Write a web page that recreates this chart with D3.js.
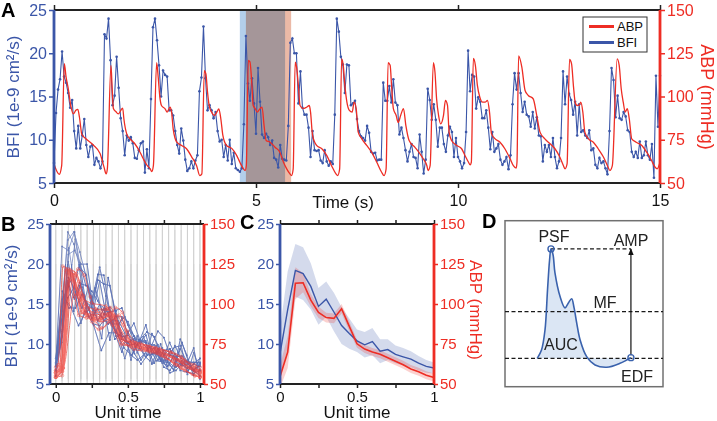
<!DOCTYPE html>
<html><head><meta charset="utf-8">
<script src="https://cdn.jsdelivr.net/npm/d3@7"></script>
<style>
body{margin:0;background:#fff}
svg{display:block}
text{font-family:"Liberation Sans",Arial,Helvetica,sans-serif}
</style>
</head><body>
<svg id="c" width="717" height="421"></svg>
<script>
// ---------------- DATA ----------------
const timeTicks = [0, 5, 10, 15];
const bfiTicks = [5, 10, 15, 20, 25];
const abpTicks = [50, 75, 100, 125, 150];
const unitTicks = [0, 0.25, 0.5, 0.75, 1];
const unitLabels = [0, 0.5, 1];

// BFI sampled at 20 Hz (1e-9 cm^2/s)
const bfiDt = 0.05;
const bfi = [
7.3,13.1,15.8,17.0,20.2,17.3,16.6,15.4,13.7,14.6,
11.0,9.0,11.6,9.0,10.5,12.4,9.4,8.0,9.2,9.4,
7.1,7.9,7.5,6.7,7.5,22.2,21.7,24.0,19.2,14.0,
15.1,19.6,16.0,12.5,11.0,8.2,10.5,9.9,10.3,9.6,
7.9,7.8,8.8,9.6,9.8,6.2,8.9,6.7,14.7,23.0,
24.0,21.5,18.6,15.0,18.0,17.5,17.3,13.4,13.4,12.8,
11.0,9.4,8.4,11.3,9.9,7.7,6.4,6.7,7.5,6.7,
7.6,8.2,15.6,17.2,23.1,17.1,13.4,14.0,13.4,12.5,
13.2,11.0,9.8,10.0,8.0,9.4,7.6,10.0,7.2,8.5,
6.7,6.5,6.3,6.7,11.8,22.0,16.5,14.5,17.1,14.2,
10.7,18.3,14.4,10.6,10.2,10.7,10.3,9.4,9.9,7.9,
7.7,6.8,9.4,7.8,7.7,7.6,11.6,21.2,21.7,20.0,
20.0,14.2,17.9,13.7,12.9,12.9,11.4,8.0,11.0,8.8,
8.7,8.8,7.6,7.3,8.8,7.5,7.0,7.5,7.2,12.9,
24.0,22.5,19.6,18.7,15.4,18.7,18.6,14.0,14.2,14.5,
12.4,11.0,10.4,10.2,9.9,11.6,10.8,8.6,8.4,8.5,
7.6,7.7,7.7,16.6,14.5,14.5,16.2,14.3,17.0,14.3,
14.0,10.6,11.4,10.2,8.8,7.5,8.6,9.5,8.0,7.9,
6.7,10.6,8.6,6.1,7.7,15.9,14.6,12.3,14.1,12.3,
9.2,11.4,11.4,9.5,8.6,10.5,11.5,10.9,8.0,10.2,
8.0,7.5,6.7,7.3,10.9,20.3,15.6,17.5,17.3,13.6,
14.9,14.4,12.5,12.5,13.4,11.4,8.9,10.9,8.6,9.0,
9.5,7.7,7.1,7.5,8.0,6.6,8.2,14.1,17.7,15.8,
17.7,15.4,13.2,14.4,12.9,12.7,11.5,13.2,11.3,12.6,
10.5,10.4,7.5,9.4,8.6,9.4,8.0,10.2,8.0,6.7,
7.5,10.2,17.9,14.1,17.3,15.3,14.6,12.9,14.4,10.5,
14.1,10.9,11.1,10.5,10.2,11.1,8.8,9.0,7.1,6.7,
7.9,7.3,7.5,6.7,6.0,11.0,18.3,16.9,12.6,15.1,
12.5,12.3,13.2,12.7,11.1,10.9,8.6,8.0,8.6,7.9,
9.8,7.9,8.2,9.8,8.2,7.7,9.5,5.6,17.4,11.5,
17.4];

// ABP (mmHg) key points: time (s) and value
const abpT = [
0,0.13,0.19,0.255,0.30,0.35,0.42,0.48,0.54,0.59,0.63,0.69,0.77,0.97,1.14,1.24,1.29,
1.32,1.41,1.44,1.47,1.53,1.59,1.70,1.73,1.80,1.88,2.00,2.13,2.21,2.31,2.38,2.42,
2.46,2.54,2.58,2.62,2.66,2.75,2.80,2.87,2.91,2.95,3.04,3.16,3.28,3.41,3.53,3.61,
3.66,3.72,3.76,3.80,3.84,3.90,3.97,4.03,4.08,4.13,4.18,4.27,4.40,4.52,4.60,4.69,4.73,
4.76,4.81,4.85,4.90,4.93,4.98,5.03,5.10,5.15,5.20,5.25,5.35,5.47,5.59,5.68,5.76,5.84,5.88,
5.92,5.97,6.01,6.05,6.09,6.17,6.25,6.32,6.35,6.40,6.50,6.63,6.75,6.87,6.98,7.02,
7.07,7.12,7.16,7.20,7.25,7.31,7.38,7.43,7.48,7.53,7.62,7.74,7.86,7.99,8.11,8.17,
8.22,8.27,8.32,8.36,8.40,8.47,8.52,8.58,8.65,8.71,8.79,8.94,9.06,9.14,9.23,9.26,
9.31,9.39,9.43,9.47,9.52,9.57,9.64,9.69,9.74,9.78,9.84,9.97,10.09,10.17,10.26,10.30,
10.33,10.38,10.43,10.48,10.54,10.61,10.67,10.73,10.78,10.83,10.92,11.04,11.16,11.29,11.37,11.44,
11.46,11.50,11.58,11.66,11.74,11.86,11.95,12.03,12.15,12.28,12.40,12.52,12.61,12.65,
12.70,12.76,12.81,12.86,12.90,12.95,13.00,13.04,13.09,13.14,13.23,13.35,13.47,13.60,13.70,13.76,
13.82,13.94,13.99,14.04,14.09,14.14,14.19,14.24,14.30,14.41,14.55,14.67,14.79,14.88,14.93,15.0];
const abpV = [
61,55,60,119,111,105,94,90,92,92.6,88,78,76,72,67,59,55.3,
58,118,104.5,93,91.3,90,93.3,87,78.4,75.5,72.7,67.8,64,60,58.2,56.6,
60,119.5,111,99.6,94.8,92.9,91,93.8,91,81.3,73.6,71.7,69.8,65,60,54.3,
55.3,115,113,102.5,94.8,91,89,91,92.9,87,77.5,71.7,70,66,62,58.2,57.2,
60,120.8,120,106,94.8,93,91,93,93.8,83.2,74.6,73.6,70.7,67.8,62,58.2,55.3,54.3,
58,119.8,116,106,94.8,93,93.8,94.8,91,77.5,71.7,69.8,66,60,55.3,54.3,
58,121.8,118,106.4,96.7,92,91,96.7,93,79.4,75.5,71.7,67.8,62,56.2,54.3,
58,119.5,118,104.5,93,89,85,89,93,83.2,74.6,70.5,66.9,64,60,57.2,
60,119.5,114,98.7,89,84.2,89,97.7,94.8,79.4,74.6,71.7,69.8,66,62,60.5,
62,122,118,106.4,99.6,96.7,96.7,97.7,91,78.4,75.5,73.6,69.8,64,60,58.6,
62,123.5,117,103.5,100.6,98.7,89,79.4,75.5,72.7,69.8,65,60,58.2,
61,121.4,119,105.4,96.7,94.8,95,96.7,91,79.4,75.5,73.6,69.8,65,60,57.2,
60,121.8,118,104.5,96.7,91,93,87,75.5,73.6,71.7,67.8,63,59.1,58.2,62];

// beat boundaries
const bfiOnsets = [0,24,47,71,93,115,138,162,184,203,226,250,274,297];     // sample indices
const abpFeet = [0.13,1.29,2.42,3.61,4.73,5.88,7.02,8.17,9.26,10.30,11.44,12.65,13.76,14.93]; // s

// highlighted windows (s)
const shadeBFI = [4.60, 5.72];
const shadeABP = [4.75, 5.87];

// panel C: mean +/- SD on unit-time grid
const unitGrid = [0,0.05,0.1,0.15,0.2,0.25,0.3,0.35,0.4,0.45,0.5,0.55,0.6,0.65,0.7,0.75,0.8,0.85,0.9,0.95,1];
const bfiMean = [8.8,14.3,19.2,18.8,17.2,14.7,15.6,14.0,12.3,11.3,10.4,9.9,10.3,9.1,9.3,8.7,8.4,8.1,7.6,7.2,7.0];
const bfiSD   = [3.0,4.8,3.3,3.3,2.9,2.3,2.2,2.4,2.3,1.9,1.4,1.6,1.7,1.5,1.3,1.1,1.1,1.0,0.9,0.8,0.7];
const abpMean = [54.5,70,113,113.3,102.4,94.8,91.5,91.0,97.0,86.0,75.1,71.8,70.0,68.6,66.4,64.2,62.0,59.4,57.6,55.5,54.0];
const abpSD   = [7,10,10,6,4,3.5,3,3,3,3,2.5,2.5,2.5,2.5,2.5,2.5,2.5,2.5,2.5,2.5,2.5];

// panel D schematic (normalised box coords)
const schemX = [0.204,0.231,0.253,0.269,0.282,0.291,0.304,0.316,0.348,0.380,0.402,0.422,0.437,0.454,0.475,0.517,0.570,0.644,0.728,0.797];
const schemY = [0.171,0.221,0.340,0.581,0.762,0.830,0.795,0.687,0.545,0.475,0.506,0.530,0.476,0.383,0.283,0.181,0.131,0.117,0.141,0.175];
const levelPSF = 0.83, levelMF = 0.452, levelEDF = 0.171, ampX = 0.797;

// ---------------- DRAW ----------------
const BLUE = '#3b56a8', RED = '#ee2d24', FONT = '"Liberation Sans",Arial,Helvetica,sans-serif';
const svg = d3.select('#c');

function styleAxis(g, color, w, fs){
  g.attr('font-family', FONT).attr('font-size', fs);
  g.select('.domain').attr('stroke', color).attr('stroke-width', w);
  g.selectAll('.tick line').attr('stroke', color).attr('stroke-width', 1.5);
  g.selectAll('.tick text').attr('fill', color);
}
function frame(x, yb, ya, L, R, T, B, fs, tickSz, bottomFmt){
  const gb = svg.append('g').attr('transform', `translate(0,${B})`)
    .call(d3.axisBottom(x).tickValues(x.__ticks).tickSize(tickSz).tickSizeOuter(0).tickPadding(bottomFmt.pad).tickFormat(bottomFmt.fmt));
  gb.select('.domain').attr('d', `M${L},0H${R}`);
  styleAxis(gb, '#222', 2.2, fs);
  gb.selectAll('.tick text').attr('fill', '#111');
  const gt = svg.append('g').attr('transform', `translate(0,${T})`)
    .call(d3.axisTop(x).tickValues(x.__ticks).tickSize(tickSz).tickSizeOuter(0).tickFormat(''));
  gt.select('.domain').attr('d', `M${L},0H${R}`);
  styleAxis(gt, '#222', 2.2, fs);
  const gl = svg.append('g').attr('transform', `translate(${L},0)`)
    .call(d3.axisLeft(yb).tickValues(bfiTicks).tickSize(tickSz).tickSizeOuter(0).tickPadding(2));
  gl.select('.domain').attr('d', `M0,${T}V${B}`);
  styleAxis(gl, BLUE, 2.8, fs);
  const gr = svg.append('g').attr('transform', `translate(${R},0)`)
    .call(d3.axisRight(ya).tickValues(abpTicks).tickSize(tickSz).tickSizeOuter(0).tickPadding(2));
  gr.select('.domain').attr('d', `M0,${T}V${B}`);
  styleAxis(gr, RED, 2.8, fs);
}

// ===== Panel A =====
const xA = d3.scaleLinear().domain([0, 15]).range([54, 660]);
const yAb = d3.scaleLinear().domain([5, 25]).range([183, 10]);
const yAa = d3.scaleLinear().domain([50, 150]).range([183, 10]);
xA.__ticks = timeTicks;

svg.append('rect').attr('x', xA(shadeBFI[0])).attr('y', 10).attr('width', xA(shadeBFI[1]) - xA(shadeBFI[0])).attr('height', 173)
  .attr('fill', '#b3cfeb').style('mix-blend-mode', 'multiply');
svg.append('rect').attr('x', xA(shadeABP[0])).attr('y', 10).attr('width', xA(shadeABP[1]) - xA(shadeABP[0])).attr('height', 173)
  .attr('fill', '#ebb9a6').style('mix-blend-mode', 'multiply');

const bfiPts = bfi.map((v, i) => ({t: i * bfiDt, v}));
const abpPts = abpT.map((t, i) => ({t, v: abpV[i]}));

svg.append('path').datum(bfiPts).attr('fill', 'none').attr('stroke', BLUE).attr('stroke-width', 1.1)
  .attr('d', d3.line().x(d => xA(d.t)).y(d => yAb(d.v)));
svg.append('g').selectAll('circle').data(bfiPts).join('circle')
  .attr('cx', d => xA(d.t)).attr('cy', d => yAb(d.v)).attr('r', 1.3).attr('fill', BLUE);
svg.append('path').datum(abpPts).attr('fill', 'none').attr('stroke', RED).attr('stroke-width', 1.3)
  .attr('d', d3.line().curve(d3.curveMonotoneX).x(d => xA(d.t)).y(d => yAa(d.v)));

frame(xA, yAb, yAa, 54, 660, 10, 183, 16, 5, {pad: 7, fmt: d3.format('d')});

svg.append('text').attr('x', 343).attr('y', 208).attr('text-anchor', 'middle').attr('font-size', 17).attr('fill', '#111').text('Time (s)');
svg.append('text').attr('transform', 'translate(19,97) rotate(-90)').attr('text-anchor', 'middle').attr('font-size', 17).attr('fill', BLUE).text('BFI (1e-9 cm²/s)');
svg.append('text').attr('transform', 'translate(701,97) rotate(90)').attr('text-anchor', 'middle').attr('font-size', 18).attr('fill', RED).text('ABP (mmHg)');

// legend
const lg = svg.append('g');
lg.append('rect').attr('x', 583).attr('y', 17).attr('width', 64).attr('height', 35).attr('fill', '#fff').attr('stroke', '#333').attr('stroke-width', 1);
lg.append('line').attr('x1', 589).attr('x2', 614).attr('y1', 26.5).attr('y2', 26.5).attr('stroke', RED).attr('stroke-width', 3);
lg.append('line').attr('x1', 589).attr('x2', 614).attr('y1', 42.5).attr('y2', 42.5).attr('stroke', BLUE).attr('stroke-width', 3);
lg.append('text').attr('x', 617).attr('y', 31).attr('font-size', 13).attr('fill', '#111').text('ABP');
lg.append('text').attr('x', 617).attr('y', 47).attr('font-size', 13).attr('fill', '#111').text('BFI');

// ===== Panel B =====
const xB = d3.scaleLinear().domain([-0.04, 1.028]).range([50, 204]);
const yBb = d3.scaleLinear().domain([5, 25]).range([384, 224]);
const yBa = d3.scaleLinear().domain([50, 150]).range([384, 224]);
xB.__ticks = unitTicks;

svg.append('g').selectAll('line').data(d3.range(0, 24)).join('line')
  .attr('x1', k => xB(k / 23)).attr('x2', k => xB(k / 23)).attr('y1', 224).attr('y2', 384)
  .attr('stroke', '#cfcfcf').attr('stroke-width', 1);

const bfiBeats = d3.range(bfiOnsets.length - 1).map(k => {
  const a = bfiOnsets[k], b = bfiOnsets[k + 1];
  return d3.range(a, b + 1).map(i => ({u: (i - a) / (b - a), v: bfi[i]}));
});
const abpBeats = d3.range(abpFeet.length - 1).map(k => {
  const a = abpFeet[k], b = abpFeet[k + 1];
  return abpPts.filter(p => p.t >= a - 1e-9 && p.t <= b + 1e-9).map(p => ({u: (p.t - a) / (b - a), v: p.v}));
});
const gBb = svg.append('g').attr('opacity', 0.7);
bfiBeats.forEach(beat => {
  gBb.append('path').datum(beat).attr('fill', 'none').attr('stroke', BLUE).attr('stroke-width', 0.8)
    .attr('d', d3.line().x(d => xB(d.u)).y(d => yBb(d.v)));
  gBb.append('g').selectAll('circle').data(beat).join('circle')
    .attr('cx', d => xB(d.u)).attr('cy', d => yBb(d.v)).attr('r', 0.9).attr('fill', BLUE);
});
const gBa = svg.append('g').attr('opacity', 0.7);
abpBeats.forEach(beat => {
  gBa.append('path').datum(beat).attr('fill', 'none').attr('stroke', RED).attr('stroke-width', 0.9)
    .attr('d', d3.line().curve(d3.curveMonotoneX).x(d => xB(d.u)).y(d => yBa(d.v)));
  gBa.append('g').selectAll('circle').data(beat).join('circle')
    .attr('cx', d => xB(d.u)).attr('cy', d => yBa(d.v)).attr('r', 1.5).attr('fill', 'none').attr('stroke', RED).attr('stroke-width', 0.6);
});
const unitFmt = d => unitLabels.includes(d) ? String(d) : '';
frame(xB, yBb, yBa, 50, 204, 224, 384, 15, 4, {pad: 3, fmt: unitFmt});
svg.append('text').attr('x', 128).attr('y', 418).attr('text-anchor', 'middle').attr('font-size', 17).attr('fill', '#111').text('Unit time');
svg.append('text').attr('transform', 'translate(17,306) rotate(-90)').attr('text-anchor', 'middle').attr('font-size', 17).attr('fill', BLUE).text('BFI (1e-9 cm²/s)');

// ===== Panel C =====
const xC = d3.scaleLinear().domain([0, 1]).range([280, 434]);
xC.__ticks = unitTicks;
const cB = unitGrid.map((u, i) => ({u, m: bfiMean[i], s: bfiSD[i]}));
const cA = unitGrid.map((u, i) => ({u, m: abpMean[i], s: abpSD[i]}));
svg.append('path').datum(cB).attr('fill', BLUE).attr('opacity', 0.22)
  .attr('d', d3.area().x(d => xC(d.u)).y0(d => yBb(d.m - d.s)).y1(d => yBb(d.m + d.s)));
svg.append('path').datum(cA).attr('fill', RED).attr('opacity', 0.22)
  .attr('d', d3.area().x(d => xC(d.u)).y0(d => yBa(d.m - d.s)).y1(d => yBa(d.m + d.s)));
svg.append('path').datum(cB).attr('fill', 'none').attr('stroke', BLUE).attr('stroke-width', 1.4)
  .attr('d', d3.line().x(d => xC(d.u)).y(d => yBb(d.m)));
svg.append('path').datum(cA).attr('fill', 'none').attr('stroke', RED).attr('stroke-width', 1.6)
  .attr('d', d3.line().x(d => xC(d.u)).y(d => yBa(d.m)));
frame(xC, yBb, yBa, 280, 434, 224, 384, 15, 4, {pad: 3, fmt: unitFmt});
svg.append('text').attr('x', 357).attr('y', 418).attr('text-anchor', 'middle').attr('font-size', 17).attr('fill', '#111').text('Unit time');
svg.append('text').attr('transform', 'translate(470,310) rotate(90)').attr('text-anchor', 'middle').attr('font-size', 17).attr('fill', RED).text('ABP (mmHg)');

// ===== Panel D =====
const dX = d3.scaleLinear().domain([0, 1]).range([505, 663]);
const dY = d3.scaleLinear().domain([0, 1]).range([386.7, 220.7]);
const schem = schemX.map((x, i) => ({x, y: schemY[i]}));
svg.append('rect').attr('x', 505).attr('y', 220.7).attr('width', 158).attr('height', 166).attr('fill', 'none').attr('stroke', '#707070').attr('stroke-width', 1.5);
svg.append('path').datum(schem).attr('fill', '#dbe6f4')
  .attr('d', d3.area().curve(d3.curveCatmullRom).x(d => dX(d.x)).y0(dY(levelEDF)).y1(d => dY(d.y)));
const dash = (x1, x2, y1, y2) => svg.append('line').attr('x1', x1).attr('x2', x2).attr('y1', y1).attr('y2', y2)
  .attr('stroke', '#1a1a1a').attr('stroke-width', 1.3).attr('stroke-dasharray', '4,2.5');
dash(dX(0), dX(1), dY(levelMF), dY(levelMF));
dash(dX(0), dX(1), dY(levelEDF), dY(levelEDF));
dash(dX(schemX[5]), dX(ampX), dY(levelPSF), dY(levelPSF));
svg.append('path').datum(schem).attr('fill', 'none').attr('stroke', '#3a62ad').attr('stroke-width', 1.6)
  .attr('d', d3.line().curve(d3.curveCatmullRom).x(d => dX(d.x)).y(d => dY(d.y)));
svg.append('defs').append('marker').attr('id', 'ah').attr('viewBox', '0 0 10 10').attr('refX', 9).attr('refY', 5)
  .attr('markerWidth', 6).attr('markerHeight', 6).attr('orient', 'auto')
  .append('path').attr('d', 'M0,1L10,5L0,9Z').attr('fill', '#111');
svg.append('line').attr('x1', dX(ampX)).attr('x2', dX(ampX)).attr('y1', dY(levelEDF) - 3).attr('y2', dY(levelPSF))
  .attr('stroke', '#111').attr('stroke-width', 1.2).attr('marker-end', 'url(#ah)');
svg.append('circle').attr('cx', dX(schemX[5])).attr('cy', dY(levelPSF)).attr('r', 3).attr('fill', 'none').attr('stroke', '#3a62ad').attr('stroke-width', 1.4);
svg.append('circle').attr('cx', dX(ampX)).attr('cy', dY(schemY[schemY.length - 1])).attr('r', 3).attr('fill', 'none').attr('stroke', '#3a62ad').attr('stroke-width', 1.4);
const dl = (t, x, y) => svg.append('text').attr('x', x).attr('y', y).attr('text-anchor', 'middle').attr('font-size', 16).attr('fill', '#222').text(t);
dl('PSF', 554, 242); dl('AMP', 631, 246); dl('MF', 605, 308); dl('AUC', 561, 350); dl('EDF', 637, 382);

// panel letters
const pl = (t, x, y) => svg.append('text').attr('x', x).attr('y', y).attr('font-size', 20).attr('font-weight', 'bold').attr('fill', '#000').text(t);
pl('A', 1, 17); pl('B', 1, 231); pl('C', 240, 229); pl('D', 482, 228);
</script>
</body></html>
